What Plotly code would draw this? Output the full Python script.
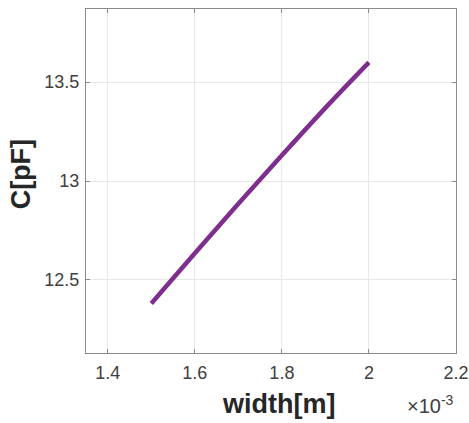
import plotly.graph_objects as go

width_m = [1.5e-3, 1.6e-3, 1.7e-3, 1.8e-3, 1.9e-3, 2.0e-3]
cap_pF = [12.38, 12.635, 12.885, 13.13, 13.37, 13.60]

x_tickvals = [1.4e-3, 1.6e-3, 1.8e-3, 2.0e-3, 2.2e-3]
x_ticktext = ["1.4", "1.6", "1.8", "2", "2.2"]
y_tickvals = [12.5, 13, 13.5]
y_ticktext = ["12.5", "13", "13.5"]

fig = go.Figure()
fig.add_trace(go.Scatter(x=width_m, y=cap_pF, mode="lines",
                         line=dict(color="#7E2F8E", width=4.5, shape="spline"),
                         showlegend=False))

axis_common = dict(showline=True, linecolor="#8a8a8a", linewidth=1, mirror="allticks",
                   ticks="inside", ticklen=4, tickcolor="#8a8a8a", automargin=False,
                   showgrid=True, gridcolor="#e8e8e8", gridwidth=1, zeroline=False,
                   tickfont=dict(family="Liberation Sans, Arial", size=18, color="#404040"))

fig.update_xaxes(range=[1.35e-3, 2.2e-3], tickvals=x_tickvals, ticktext=x_ticktext,
                 ticklabelstandoff=3, **axis_common)
fig.update_yaxes(range=[12.13, 13.87], tickvals=y_tickvals, ticktext=y_ticktext,
                 ticklabelstandoff=2, **axis_common)

fig.add_annotation(text="<b>width[m]</b>", xref="paper", yref="paper", x=0.52, y=-0.148,
                   xanchor="center", yanchor="middle", showarrow=False,
                   font=dict(family="Liberation Sans, Arial", size=27, color="#262626"))
fig.add_annotation(text="<b>C[pF]</b>", xref="paper", yref="paper", x=-0.175, y=0.52,
                   xanchor="center", yanchor="middle", showarrow=False, textangle=-90,
                   font=dict(family="Liberation Sans, Arial", size=27, color="#262626"))
fig.add_annotation(text="×10<sup>-3</sup>", xref="paper", yref="paper", x=1.0, y=-0.15,
                   xanchor="right", yanchor="middle", showarrow=False,
                   font=dict(family="Liberation Sans, Arial", size=20, color="#404040"))

fig.update_layout(width=469, height=423, margin=dict(l=86, r=13, t=9, b=70),
                  paper_bgcolor="white", plot_bgcolor="white")

fig.write_html("out.html", config={"displayModeBar": False},
               post_script="document.body.style.margin='0';document.body.style.overflow='hidden';")
